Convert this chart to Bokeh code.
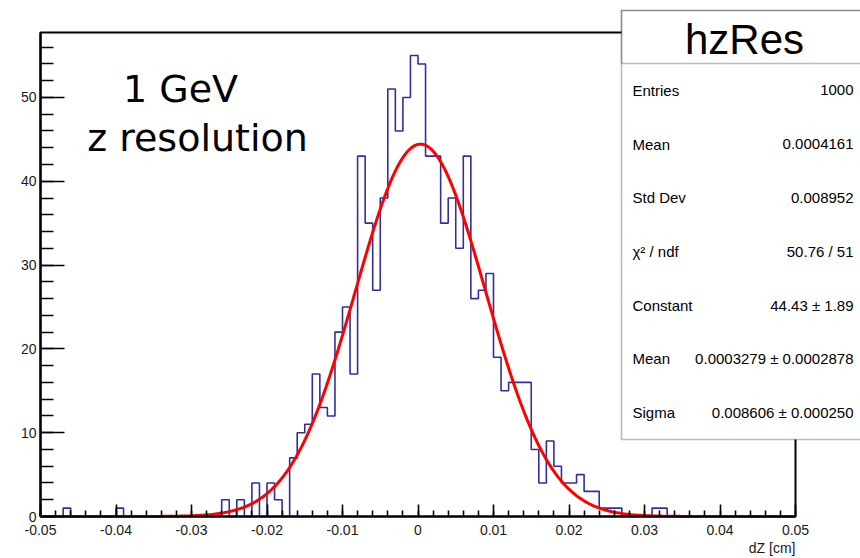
import numpy as np
from bokeh.plotting import figure
from bokeh.models import FixedTicker, Label, BoxAnnotation, Range1d
from bokeh.embed import file_html
from bokeh.resources import INLINE

# ---------------- data ----------------
bin_low = -0.05
bin_width = 0.001
bin_counts = [0, 0, 0, 1, 0, 0, 0, 0, 0, 0,
              1, 0, 0, 0, 0, 0, 0, 0, 0, 0,
              0, 0, 0, 0, 2, 0, 2, 0, 4, 0,
              4, 2, 0, 7, 10, 11, 17, 13, 12, 22,
              25, 17, 43, 35, 27, 38, 51, 46, 50, 55,
              54, 43, 43, 35, 38, 32, 43, 26, 27, 29,
              19, 15, 16, 16, 16, 8, 4, 9, 6, 4,
              4, 5, 3, 3, 1, 1, 1, 0, 0, 0,
              0, 1, 1, 0, 0, 0, 0, 0, 0, 0,
              0, 0, 0, 0, 0, 0, 0, 0, 0, 0]

fit_constant = 44.43
fit_mean = 0.0003279
fit_sigma = 0.008606

x_ticks = [-0.05, -0.04, -0.03, -0.02, -0.01, 0.0, 0.01, 0.02, 0.03, 0.04, 0.05]
x_tick_labels = ["-0.05", "-0.04", "-0.03", "-0.02", "-0.01", "0",
                 "0.01", "0.02", "0.03", "0.04", "0.05"]
y_ticks = [0, 10, 20, 30, 40, 50]
y_tick_labels = ["0", "10", "20", "30", "40", "50"]

stat_title = "hzRes"
stat_labels = ["Entries", "Mean", "Std Dev", "\u03c7\u00b2 / ndf", "Constant", "Mean", "Sigma"]
stat_values = ["1000", "0.0004161", "0.008952", "50.76 / 51", "44.43 \u00b1 1.89",
               "0.0003279 \u00b1 0.0002878", "0.008606 \u00b1 0.000250"]

x_title = "dZ [cm]"
note_lines = ["1 GeV", "z resolution"]

# ---------------- geometry ----------------
X0, X1 = -0.05, 0.05
Y0, Y1 = 0.0, 57.75
W, H = 860, 558
FL, FR, FT, FB = 40, 795, 32, 516  # histogram frame in pixels


def dx(px):
    return X0 + (px - FL) / (FR - FL) * (X1 - X0)


def dy(py):
    return Y0 + (FB - py) / (FB - FT) * (Y1 - Y0)


# the plotting area spans the whole canvas; axes are pinned to the frame edges
p = figure(width=W, height=H,
           x_range=Range1d(dx(0), dx(W)), y_range=Range1d(dy(H), dy(0)),
           output_backend="svg", toolbar_location=None,
           min_border_left=0, min_border_right=0,
           min_border_top=0, min_border_bottom=0)
p.xgrid.visible = False
p.ygrid.visible = False
p.background_fill_color = "white"
p.border_fill_color = "white"
p.outline_line_color = None

x_minor = list(np.round(np.arange(-0.05, 0.0501, 0.002), 4))
y_minor = list(range(0, 58, 2))
p.xaxis.ticker = FixedTicker(ticks=x_ticks, minor_ticks=x_minor)
p.yaxis.ticker = FixedTicker(ticks=y_ticks, minor_ticks=y_minor)
p.xaxis.major_label_overrides = {t: l for t, l in zip(x_ticks, x_tick_labels)}
p.yaxis.major_label_overrides = {t: l for t, l in zip(y_ticks, y_tick_labels)}
p.xaxis.fixed_location = Y0
p.yaxis.fixed_location = X0
p.xaxis.bounds = (X0, X1)
p.yaxis.bounds = (Y0, Y1)

for ax in (p.xaxis, p.yaxis):
    ax.axis_line_width = 2.2
    ax.axis_line_color = "black"
    ax.major_tick_out = 0
    ax.minor_tick_out = 0
    ax.major_tick_line_width = 1.6
    ax.minor_tick_line_width = 1.6
    ax.major_tick_line_color = "black"
    ax.minor_tick_line_color = "black"
    ax.major_label_text_font = "Liberation Sans"
    ax.major_label_text_font_size = "14px"
    ax.major_label_text_color = "#1a1a1a"

p.xaxis.major_tick_in = 12
p.xaxis.minor_tick_in = 6
p.xaxis.major_label_standoff = 8
p.yaxis.major_tick_in = 24
p.yaxis.minor_tick_in = 13
p.yaxis.major_label_standoff = 4

# frame box of the histogram pad
p.quad(left=[X0], right=[X1], bottom=[Y0], top=[Y1], fill_alpha=0,
       line_color="black", line_width=2)

# histogram outline
edges = [bin_low + i * bin_width for i in range(len(bin_counts) + 1)]
ys = list(bin_counts) + [bin_counts[-1]]
p.step(edges, ys, mode="after", line_color="#30309c", line_width=1.6)

# gaussian fit curve from the fit parameters
xf = np.linspace(X0, X1, 400)
yf = fit_constant * np.exp(-0.5 * ((xf - fit_mean) / fit_sigma) ** 2)
p.line(xf, yf, line_color="#ff0000", line_width=3)

# text note
p.add_layout(Label(x=dx(180), y=dy(88), text=note_lines[0], text_align="center",
                   text_baseline="middle", text_font="DejaVu Sans",
                   text_font_size="38px", text_color="black"))
p.add_layout(Label(x=dx(197), y=dy(137), text=note_lines[1], text_align="center",
                   text_baseline="middle", text_font="DejaVu Sans",
                   text_font_size="38px", text_color="black"))

# stats box
p.add_layout(BoxAnnotation(left=dx(621), right=dx(866), top=dy(10), bottom=dy(439),
                           fill_color="white", fill_alpha=1.0,
                           line_color="#222222", line_width=1.6))
p.add_layout(BoxAnnotation(left=dx(621), right=dx(866), top=dy(10), bottom=dy(63),
                           fill_alpha=0.0, line_color="#222222", line_width=1.6))
p.add_layout(Label(x=dx(744), y=dy(39), text=stat_title, text_align="center",
                   text_baseline="middle", text_font="Liberation Sans",
                   text_font_size="42px", text_color="black"))
row_h = (439 - 63) / len(stat_labels)
for i, (lab, val) in enumerate(zip(stat_labels, stat_values)):
    yc = 63 + row_h * (i + 0.5)
    p.add_layout(Label(x=dx(632), y=dy(yc), text=lab, text_align="left",
                       text_baseline="middle", text_font="Liberation Sans",
                       text_font_size="15px", text_color="black"))
    p.add_layout(Label(x=dx(853), y=dy(yc), text=val, text_align="right",
                       text_baseline="middle", text_font="Liberation Sans",
                       text_font_size="15px", text_color="black"))

# x-axis title (right-aligned, ROOT style)
p.add_layout(Label(x=dx(795), y=dy(547), text=x_title, text_align="right",
                   text_baseline="middle", text_font="Liberation Sans",
                   text_font_size="14px", text_color="#1a1a1a"))

open("out.html", "w").write(file_html(p, INLINE))
